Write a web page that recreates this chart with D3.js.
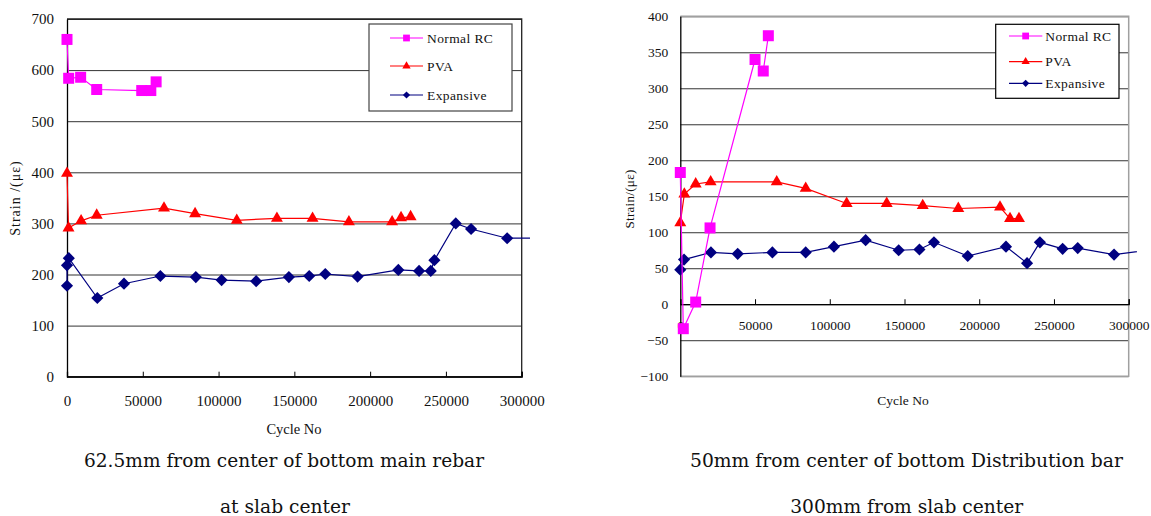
<!DOCTYPE html>
<html><head><meta charset="utf-8">
<script src="https://cdn.jsdelivr.net/npm/d3@7"></script>
<style>
html,body{margin:0;padding:0;background:#fff;}
svg{display:block;}
</style></head>
<body>
<svg id="chart" width="1151" height="516"></svg>
<script>
// ---------- Data ----------
const seriesNames = ["Normal RC", "PVA", "Expansive"];
const xTicks = [0, 50000, 100000, 150000, 200000, 250000, 300000];
const leftYTicks = [0, 100, 200, 300, 400, 500, 600, 700];
const rightYTicks = [-100, -50, 0, 50, 100, 150, 200, 250, 300, 350, 400];

// Left chart: 62.5mm from center of bottom main rebar at slab center
const leftNormalX = [0, 1100, 9000, 19600, 49300, 55300, 58800];
const leftNormalY = [660, 584, 586, 562, 560, 560, 577];
const leftPvaX = [0, 1000, 9300, 19600, 64000, 84500, 112000, 138500, 162000, 186000, 214500, 220400, 226700];
const leftPvaY = [398, 291, 305, 316, 330, 319, 306, 310, 310, 303, 303, 311, 313];
const leftExpX = [0, 0, 1200, 20000, 37600, 61600, 85000, 102000, 124800, 146400, 159800, 170400, 191700, 218600, 232300, 240000, 242400, 256500, 266600, 290400, 320000];
const leftExpY = [178, 218, 232, 154, 182, 197, 195, 189, 187, 195, 197, 201, 196, 209, 207, 207, 228, 300, 289, 271, 271];

// Right chart: 50mm from center of bottom Distribution bar 300mm from slab center
const rightNormalX = [0, 2000, 10300, 19900, 50000, 55500, 58900];
const rightNormalY = [183, -34, 3, 106, 340, 324, 373];
const rightPvaX = [0, 2700, 10300, 20300, 64500, 83900, 111300, 138100, 162200, 186000, 213900, 220600, 226600];
const rightPvaY = [113, 153, 167, 170, 170, 161, 140, 140, 137, 133, 135, 119, 119];
const rightExpX = [0, 2500, 20500, 38400, 61600, 83900, 102800, 124000, 146100, 160000, 169700, 192300, 217900, 232000, 240600, 255800, 265900, 290200, 320000];
const rightExpY = [48, 62, 72, 70, 72, 72, 80, 89, 75, 76, 86, 67, 80, 57, 86, 77, 78, 69, 77];

const zip = (xs, ys) => xs.map((x, i) => ({x, y: ys[i]}));

const colors = {"Normal RC": "#ff00ff", "PVA": "#ff0000", "Expansive": "#000080"};
const symbols = {"Normal RC": d3.symbolSquare, "PVA": d3.symbolTriangle, "Expansive": d3.symbolSquare};
const rot = {"Normal RC": 0, "PVA": 0, "Expansive": 45};
const msize = {"Normal RC": 121, "PVA": 62, "Expansive": 74};
const lsize = {"Normal RC": 46, "PVA": 30, "Expansive": 26};

const svg = d3.select("#chart");
const serif = "'Liberation Serif','Times New Roman',serif";

function drawChart(cfg) {
  const g = svg.append("g");
  const x = d3.scaleLinear().domain([0, 300000]).range(cfg.xRange);
  const y = d3.scaleLinear().domain(cfg.yDomain).range(cfg.yRange);
  const [x0, x1] = cfg.xRange;

  // gridlines
  const grid = g.append("g").attr("transform", `translate(${x0},0)`)
    .call(d3.axisLeft(y).tickValues(cfg.yTicks).tickSize(-(x1 - x0)).tickFormat(""));
  grid.select(".domain").remove();
  grid.selectAll(".tick line").attr("stroke", cfg.gridColor).attr("stroke-width", 1);

  // plot frame (top, right, bottom)
  g.append("path")
    .attr("d", `M${x0},${y(cfg.yDomain[1])}H${x1}V${y(cfg.yDomain[0])}H${x0}`)
    .attr("fill", "none").attr("stroke", cfg.frameColor).attr("stroke-width", cfg.frameWidth);

  // y axis labels
  const ya = g.append("g").attr("transform", `translate(${x0},0)`)
    .call(d3.axisLeft(y).tickValues(cfg.yTicks).tickSize(0).tickPadding(cfg.yPad).tickFormat(d3.format("d")));
  ya.select(".domain").attr("stroke", "#000").attr("stroke-width", 1.3);
  ya.selectAll("text").attr("font-family", serif).attr("font-size", cfg.tickFont).attr("fill", "#111");

  // x axis at y=0
  const xa = g.append("g").attr("transform", `translate(0,${y(0)})`)
    .call(d3.axisBottom(x).tickValues(xTicks).tickSize(-5).tickPadding(cfg.xPad).tickFormat(d3.format("d")));
  xa.select(".domain").attr("stroke", "#000").attr("stroke-width", 1.3);
  xa.selectAll(".tick line").attr("stroke", "#000");
  xa.selectAll("text").attr("font-family", serif).attr("font-size", cfg.tickFont).attr("fill", "#111");

  // series
  const clipId = "clip" + cfg.id;
  svg.append("clipPath").attr("id", clipId).append("rect")
    .attr("x", 0).attr("y", 0).attr("width", cfg.clipRight).attr("height", 516);
  const sg = g.append("g").attr("clip-path", `url(#${clipId})`);
  const line = d3.line().x(d => x(d.x)).y(d => y(d.y));
  [["Expansive", cfg.exp], ["PVA", cfg.pva], ["Normal RC", cfg.normal]].forEach(([name, data]) => {
    sg.append("path").datum(data).attr("d", line)
      .attr("fill", "none").attr("stroke", colors[name]).attr("stroke-width", 1.2);
    sg.selectAll(null).data(data).enter().append("path")
      .attr("d", d3.symbol().type(symbols[name]).size(msize[name]))
      .attr("transform", d => `translate(${x(d.x)},${y(d.y)}) rotate(${rot[name]})`)
      .attr("fill", colors[name]);
  });

  // legend
  const L = cfg.legend;
  g.append("rect").attr("x", L.x).attr("y", L.y).attr("width", L.w).attr("height", L.h)
    .attr("fill", "#fff").attr("stroke", L.stroke).attr("stroke-width", 1.2);
  seriesNames.forEach((name, i) => {
    const ly = L.rows[i];
    g.append("line").attr("x1", L.lx0).attr("x2", L.lx1).attr("y1", ly).attr("y2", ly)
      .attr("stroke", colors[name]).attr("stroke-width", 1.2);
    g.append("path").attr("d", d3.symbol().type(symbols[name]).size(lsize[name]))
      .attr("transform", `translate(${(L.lx0 + L.lx1) / 2},${ly}) rotate(${rot[name]})`)
      .attr("fill", colors[name]);
    g.append("text").attr("x", L.tx).attr("y", ly).attr("dy", "0.35em")
      .attr("font-family", serif).attr("font-size", L.font).attr("fill", "#111")
      .attr("letter-spacing", "0.4px").text(name);
  });

  // axis titles
  g.append("text").attr("transform", `translate(${cfg.yTitle.x},${cfg.yTitle.y}) rotate(-90)`)
    .attr("text-anchor", "middle").attr("font-family", serif).attr("font-size", cfg.yTitle.font)
    .attr("letter-spacing", cfg.yTitle.ls).attr("fill", "#111").text(cfg.yTitle.text);
  g.append("text").attr("x", cfg.xTitle.x).attr("y", cfg.xTitle.y)
    .attr("text-anchor", "middle").attr("font-family", serif).attr("font-size", cfg.xTitle.font)
    .attr("fill", "#111").text("Cycle No");

  // captions
  cfg.captions.forEach(c => {
    g.append("text").attr("x", c.x).attr("y", c.y).attr("text-anchor", "middle")
      .attr("font-family", "'DejaVu Serif',serif").attr("font-size", 18)
      .attr("textLength", c.len).attr("lengthAdjust", "spacingAndGlyphs")
      .attr("fill", "#111").text(c.text);
  });
}

drawChart({
  id: "L",
  xRange: [67, 521.7], yDomain: [0, 700], yRange: [376.7, 19], yTicks: leftYTicks,
  gridColor: "#333", frameColor: "#222", frameWidth: 1.3,
  tickFont: 15, yPad: 13, xPad: 19,
  clipRight: 530,
  normal: zip(leftNormalX, leftNormalY), pva: zip(leftPvaX, leftPvaY), exp: zip(leftExpX, leftExpY),
  legend: {x: 369, y: 24, w: 143, h: 87, stroke: "#444", rows: [38, 66, 95], lx0: 390, lx1: 423, tx: 427, font: 13.5},
  yTitle: {x: 20, y: 198, text: "Strain /(με)", font: 14, ls: "1px"},
  xTitle: {x: 294, y: 434, font: 14.5},
  captions: [{x: 284, y: 467, len: 400, text: "62.5mm from center of bottom main rebar"},
             {x: 285, y: 513, len: 130, text: "at slab center"}]
});

drawChart({
  id: "R",
  xRange: [680.3, 1128.7], yDomain: [-100, 400], yRange: [376.2, 16.3], yTicks: rightYTicks,
  gridColor: "#333", frameColor: "#a0a0a0", frameWidth: 1.5,
  tickFont: 13.5, yPad: 12, xPad: 16.5,
  clipRight: 1137,
  normal: zip(rightNormalX, rightNormalY), pva: zip(rightPvaX, rightPvaY), exp: zip(rightExpX, rightExpY),
  legend: {x: 995.7, y: 24.3, w: 123.3, h: 74, stroke: "#000", rows: [36, 61.7, 83.3], lx0: 1009, lx1: 1042.3, tx: 1045.3, font: 13.5},
  yTitle: {x: 634, y: 199, text: "Strain/(με)", font: 13, ls: "0.3px"},
  xTitle: {x: 903, y: 405, font: 13.5},
  captions: [{x: 906.5, y: 467, len: 433, text: "50mm from center of bottom Distribution bar"},
             {x: 906.7, y: 513, len: 233, text: "300mm from slab center"}]
});
</script>
</body></html>
